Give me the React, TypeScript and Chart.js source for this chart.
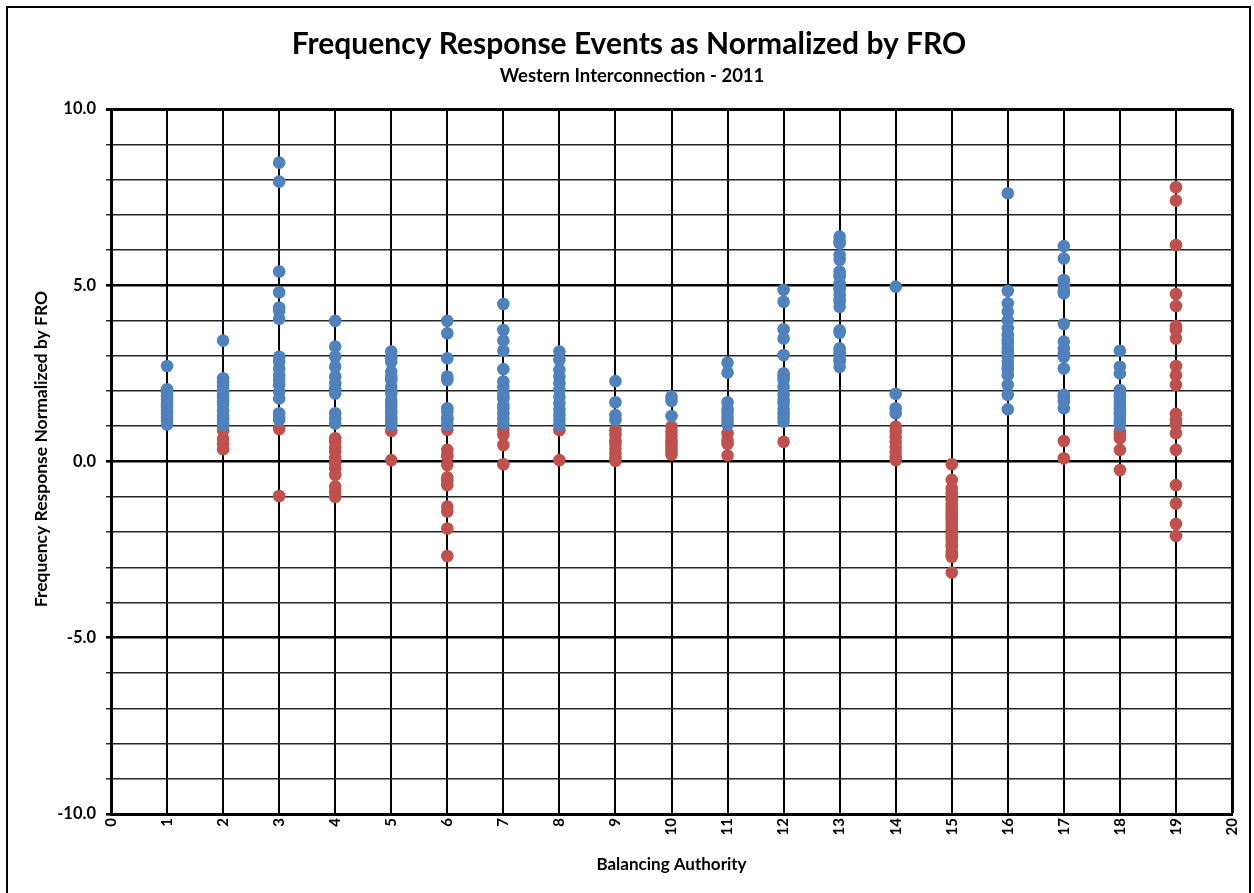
import React, { useEffect, useRef } from "react";
import { Chart, registerables } from "chart.js";

Chart.register(...registerables);

const chartTitle = "Frequency Response Events as Normalized by FRO";
const chartSubtitle = "Western Interconnection - 2011";
const yAxisTitle = "Frequency Response Normalized by FRO";
const xAxisTitle = "Balancing Authority";

const baIds = [1, 2, 3, 4, 5, 6, 7, 8, 9, 10, 11, 12, 13, 14, 15, 16, 17, 18, 19];

// blue series, one list per balancing authority (index 0 -> BA 1)
const blueByBA: number[][] = [
  [2.71, 2.05, 1.95, 1.85, 1.75, 1.65, 1.55, 1.45, 1.35, 1.25, 1.15, 1.05],
  [3.43, 2.36, 2.25, 2.15, 2.0, 1.9, 1.8, 1.7, 1.6, 1.45, 1.3, 1.2, 1.1, 1.03],
  [8.48, 7.94, 5.39, 4.8, 4.37, 4.28, 4.05, 2.97, 2.83, 2.64, 2.45, 2.31, 2.17, 1.98, 1.79, 1.37, 1.27, 1.18],
  [3.99, 3.26, 2.97, 2.69, 2.41, 2.22, 2.05, 1.93, 1.37, 1.22, 1.08],
  [3.12, 2.95, 2.83, 2.55, 2.4, 2.31, 2.12, 2.0, 1.93, 1.75, 1.65, 1.56, 1.45, 1.37, 1.25, 1.18, 1.1, 1.04],
  [3.99, 3.64, 2.93, 2.41, 2.31, 1.51, 1.41, 1.25, 1.18, 1.04],
  [4.47, 3.73, 3.43, 3.14, 2.62, 2.27, 2.12, 1.98, 1.85, 1.79, 1.6, 1.51, 1.37, 1.22, 1.08],
  [3.12, 2.88, 2.6, 2.41, 2.22, 2.03, 1.84, 1.65, 1.46, 1.32, 1.18, 1.04],
  [2.28, 1.68, 1.32, 1.18],
  [1.84, 1.72, 1.29],
  [2.8, 2.52, 1.68, 1.5, 1.4, 1.27, 1.15, 1.05],
  [4.87, 4.53, 3.75, 3.49, 3.02, 2.5, 2.4, 2.31, 2.12, 1.89, 1.75, 1.65, 1.5, 1.37, 1.25, 1.13],
  [6.38, 6.25, 6.19, 5.86, 5.72, 5.39, 5.3, 5.24, 5.05, 4.95, 4.87, 4.72, 4.6, 4.53, 4.39, 3.72, 3.65, 3.21, 3.1, 3.02, 2.9, 2.83, 2.69],
  [4.96, 1.92, 1.51, 1.37],
  [],
  [7.61, 4.84, 4.49, 4.25, 4.01, 3.78, 3.59, 3.45, 3.35, 3.21, 3.1, 2.97, 2.83, 2.69, 2.6, 2.45, 2.17, 1.89, 1.48],
  [6.11, 5.76, 5.15, 5.01, 4.85, 4.77, 3.9, 3.4, 3.21, 3.05, 2.97, 2.64, 1.89, 1.8, 1.7, 1.51],
  [3.14, 2.69, 2.5, 2.03, 1.89, 1.8, 1.7, 1.6, 1.51, 1.4, 1.32, 1.2, 1.13, 1.04],
  [],
];

// red series, one list per balancing authority (index 0 -> BA 1)
const redByBA: number[][] = [
  [],
  [0.88, 0.65, 0.5, 0.35],
  [0.92, -0.98],
  [0.66, 0.55, 0.4, 0.28, 0.1, -0.05, -0.2, -0.38, -0.71, -0.85, -1.0],
  [0.87, 0.04],
  [0.9, 0.33, 0.2, 0.14, -0.1, -0.45, -0.55, -0.67, -1.28, -1.42, -1.9, -2.68],
  [0.9, 0.75, 0.47, -0.08],
  [0.89, 0.04],
  [0.89, 0.75, 0.6, 0.5, 0.37, 0.23, 0.1, 0.02],
  [0.99, 0.85, 0.72, 0.6, 0.5, 0.4, 0.3, 0.2],
  [0.8, 0.6, 0.5, 0.17],
  [0.56],
  [],
  [0.99, 0.85, 0.7, 0.56, 0.42, 0.28, 0.14, 0.04],
  [-0.08, -0.52, -0.76, -0.9, -1.0, -1.09, -1.2, -1.28, -1.38, -1.47, -1.55, -1.66, -1.75, -1.85, -1.95, -2.04, -2.15, -2.23, -2.35, -2.42, -2.56, -2.65, -2.7, -3.15],
  [],
  [0.58, 0.09],
  [0.85, 0.75, 0.66, 0.33, -0.24],
  [7.78, 7.4, 6.14, 4.75, 4.41, 3.84, 3.73, 3.49, 2.71, 2.45, 2.17, 1.35, 1.18, 1.05, 0.8, 0.33, -0.67, -1.19, -1.77, -2.11],
];

const xMin = 0;
const xMax = 20;
const yMin = -10;
const yMax = 10;

const FONT = "Lato, 'Open Sans', 'DejaVu Sans', sans-serif";

function toPoints(groups: number[][]) {
  const pts: { x: number; y: number }[] = [];
  groups.forEach((vals, i) => {
    vals.forEach((v) => pts.push({ x: baIds[i], y: v }));
  });
  return pts;
}

const textPlugin = {
  id: "textPlugin",
  afterDraw(chart: any) {
    const ctx = chart.ctx;
    ctx.save();
    ctx.fillStyle = "#000";
    ctx.textAlign = "center";
    ctx.textBaseline = "middle";
    ctx.font = `bold 30px ${FONT}`;
    ctx.fillText(chartTitle, 629, 44);
    ctx.font = `bold 18.5px ${FONT}`;
    ctx.fillText(chartSubtitle, 632, 76);
    ctx.font = `bold 17px ${FONT}`;
    const area = chart.chartArea;
    ctx.fillText(xAxisTitle, (area.left + area.right) / 2, 865);
    ctx.translate(41, 449);
    ctx.rotate(-Math.PI / 2);
    ctx.font = `bold 17.5px ${FONT}`;
    ctx.fillText(yAxisTitle, 0, 0);
    ctx.restore();
  },
};

export default function App() {
  const canvasRef = useRef<HTMLCanvasElement | null>(null);

  useEffect(() => {
    if (!canvasRef.current) return;
    const chart = new Chart(canvasRef.current, {
      type: "scatter",
      data: {
        datasets: [
          {
            label: "Blue",
            data: toPoints(blueByBA),
            backgroundColor: "#4F81BD",
            borderWidth: 0,
            pointRadius: 6.3,
          },
          {
            label: "Red",
            data: toPoints(redByBA),
            backgroundColor: "#C0504D",
            borderWidth: 0,
            pointRadius: 6.3,
          },
        ],
      },
      options: {
        responsive: false,
        animation: false,
        devicePixelRatio: 1,
        layout: { padding: { left: 0, right: 21, top: 109, bottom: 0 } },
        plugins: {
          legend: { display: false },
          tooltip: { enabled: false },
          title: { display: false },
        },
        scales: {
          x: {
            type: "linear",
            min: xMin,
            max: xMax,
            afterFit: (scale: any) => {
              scale.height = 79;
            },
            ticks: {
              stepSize: 1,
              autoSkip: false,
              minRotation: 90,
              maxRotation: 90,
              padding: 4,
              color: "#000",
              font: { family: FONT, size: 15, weight: "bold" },
              callback: (v: any) => String(v),
            },
            grid: {
              drawTicks: false,
              color: "#000",
              lineWidth: (c: any) => (c.tick && c.tick.value === xMax ? 3 : 2),
            },
            border: { display: true, color: "#000", width: 3 },
          },
          y: {
            type: "linear",
            min: yMin,
            max: yMax,
            afterFit: (scale: any) => {
              scale.width = 111;
            },
            ticks: {
              stepSize: 1,
              autoSkip: false,
              padding: 10,
              color: "#000",
              font: { family: FONT, size: 16.5, weight: "bold" },
              callback: (v: any) => (Number(v) % 5 === 0 ? Number(v).toFixed(1) : ""),
            },
            grid: {
              drawTicks: true,
              tickLength: 5,
              color: (c: any) => (c.tick && c.tick.value % 5 === 0 ? "#000" : "#262626"),
              lineWidth: (c: any) => {
                const v = c.tick ? c.tick.value : 0;
                if (v === yMax) return 3;
                if (v % 5 === 0) return 2.6;
                return 1.5;
              },
            },
            border: { display: true, color: "#000", width: 3 },
          },
        },
      },
      plugins: [textPlugin],
    } as any);
    return () => chart.destroy();
  }, []);

  return (
    <div
      style={{
        position: "fixed",
        left: 0,
        top: 0,
        width: 1254,
        height: 893,
        background: "#fff",
        overflow: "hidden",
      }}
    >
      <canvas ref={canvasRef} width={1254} height={893} style={{ display: "block", position: "absolute", left: 0, top: 0 }} />
      <div
        style={{
          position: "absolute",
          left: 6,
          top: 6,
          width: 1241,
          height: 900,
          border: "2px solid #000",
          pointerEvents: "none",
        }}
      />
    </div>
  );
}
